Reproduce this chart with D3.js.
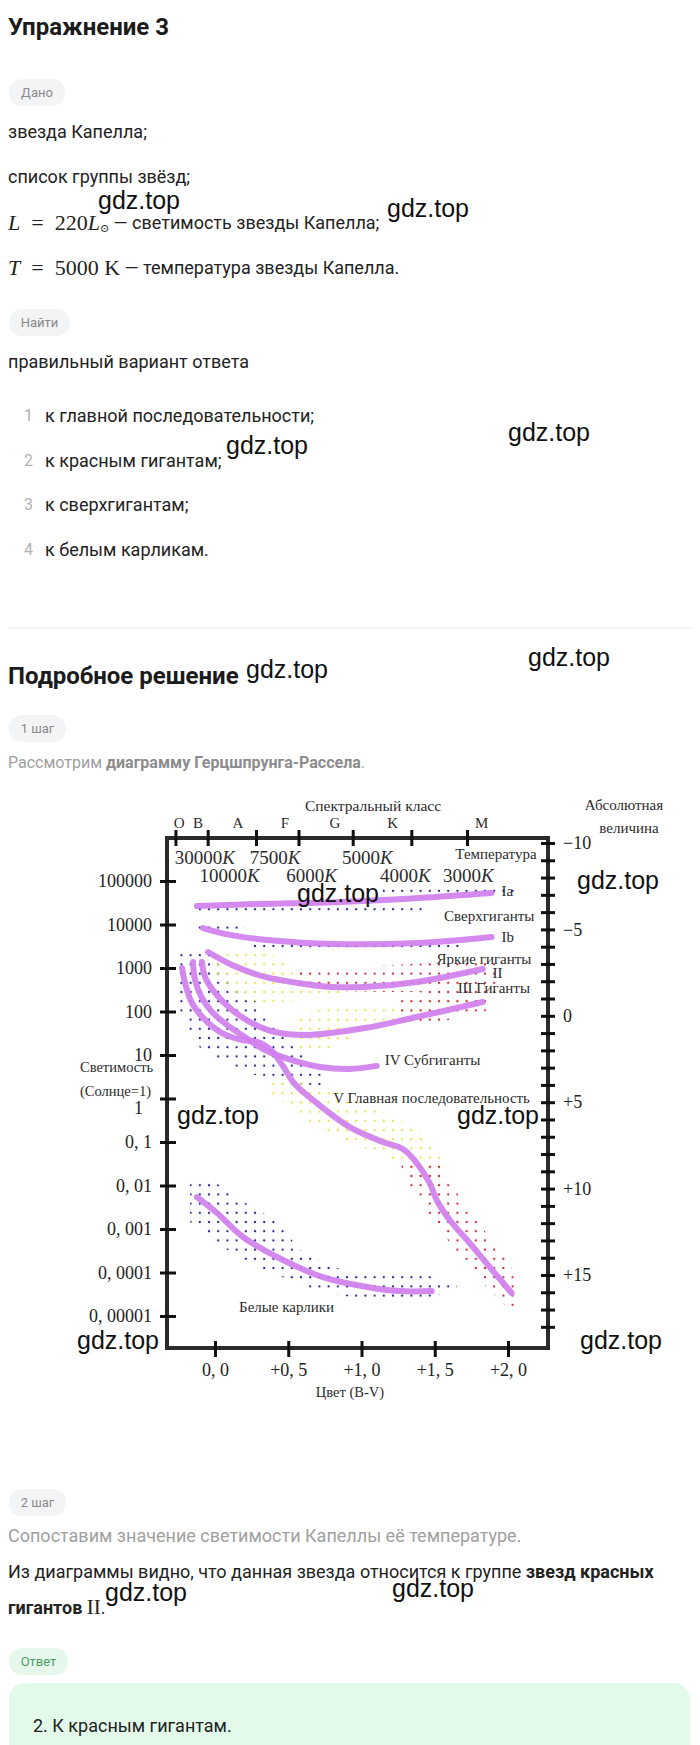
<!DOCTYPE html>
<html>
<head>
<meta charset="utf-8">
<script src="https://cdn.jsdelivr.net/npm/d3@7"></script>
<style>
  body { margin: 0; background: #fff; }
  svg { display: block; }
</style>
</head>
<body>
<svg id="page"></svg>
<script>
// ---- chart data (B-V colour, absolute magnitude) ----
const lumTicks = [1e5, 1e4, 1e3, 100, 10, 1, 0.1, 0.01, 0.001, 0.0001, 0.00001];
const lumLabels = ["100000", "10000", "1000", "100", "10", "1", "0, 1", "0, 01", "0, 001", "0, 0001", "0, 00001"];
const magTicks = [-10, -9, -8, -7, -6, -5, -4, -3, -2, -1, 0, 1, 2, 3, 4, 5, 6, 7, 8, 9, 10, 11, 12, 13, 14, 15, 16, 17, 18];
const magLabels = { "-10": "\u221210", "-5": "\u22125", "0": "0", "5": "+5", "10": "+10", "15": "+15" };
const colorTicks = [0, 0.5, 1, 1.5, 2];
const colorLabels = ["0, 0", "+0, 5", "+1, 0", "+1, 5", "+2, 0"];
const classTicks = [-0.27, -0.05, 0.28, 0.57, 0.94, 1.34, 1.72];
const classNames = ["O", "B", "A", "F", "G", "K", "M"];
const classPos = [-0.245, -0.116, 0.157, 0.477, 0.818, 1.213, 1.82];
const tempNames = ["30000", "10000", "7500", "6000", "5000", "4000", "3000"];
const tempPos = [-0.07, 0.10, 0.41, 0.66, 1.04, 1.30, 1.73];
const tempRow = [0, 1, 0, 1, 0, 1, 1];

const curveIa = [[-0.123, -6.35], [0.307, -6.47], [0.852, -6.59], [1.397, -6.82], [1.888, -7.11]];
const curveIb = [[-0.082, -5.08], [0.102, -4.68], [0.354, -4.39], [0.804, -4.16], [1.377, -4.21], [1.888, -4.56]];
const curveII = [[-0.048, -3.69], [0.116, -2.94], [0.341, -2.25], [0.566, -1.90], [0.798, -1.67], [1.022, -1.67], [1.377, -1.96], [1.827, -2.71]];
const curveIII = [[-0.089, -3.11], [-0.068, -2.25], [0, -1.32], [0.116, -0.34], [0.252, 0.42], [0.409, 0.94], [0.634, 1.11], [1.022, 0.71], [1.377, 0.07], [1.827, -0.80]];
const curveIV = [[-0.150, -3.11], [-0.136, -2.07], [-0.089, -1.03], [-0.020, -0.22], [0.082, 0.53], [0.204, 1.23], [0.341, 1.98], [0.566, 2.67], [0.716, 2.96], [0.920, 3.08], [1.104, 2.90]];
const curveV = [[-0.225, -2.77], [-0.204, -1.90], [-0.157, -0.74], [-0.068, 0.24], [0.048, 1.00], [0.184, 1.40], [0.293, 1.52], [0.382, 1.98], [0.464, 2.91], [0.545, 3.95], [0.695, 5.05], [0.920, 6.44], [1.145, 7.30], [1.282, 7.71], [1.377, 8.52], [1.466, 9.68], [1.513, 10.66], [1.602, 11.82], [1.738, 13.15], [1.875, 14.54], [2.025, 16.04]];
const curveWD = [[-0.123, 10.49], [0.014, 11.41], [0.191, 12.80], [0.464, 14.13], [0.736, 15.12], [1.036, 15.69], [1.261, 15.93], [1.479, 15.93]];

// dotted star fields (polygons in B-V / magnitude)
const blueFields = [
  [[1.125, -7.51], [2.045, -7.51], [2.045, -6.99], [1.125, -6.99]],
  [[-0.136, -6.41], [1.431, -6.41], [1.431, -5.89], [-0.136, -5.89]],
  [[-0.136, -5.37], [0.204, -5.37], [0.204, -4.85], [-0.136, -4.85]],
  [[0.239, -4.33], [1.670, -4.33], [1.670, -3.81], [0.239, -3.81]],
  [[-0.266, -3.92], [-0.068, -3.92], [0.020, -3.11], [0.136, -1.78], [0.273, -0.91], [0.389, 0.53], [0.579, 1.98], [0.750, 3.43], [0.750, 4.00], [0.511, 4.00], [0.273, 3.43], [0.068, 2.67], [-0.102, 1.86], [-0.204, 0.53], [-0.266, -0.91]],
  [[-0.170, 9.62], [0, 9.62], [0.136, 10.49], [0.320, 11.35], [0.443, 12.11], [0.579, 13.55], [0.818, 14.60], [1.466, 15.06], [1.650, 15.58], [1.650, 15.87], [1.466, 16.27], [0.920, 16.27], [0.648, 15.76], [0.341, 14.71], [0.102, 13.67], [-0.068, 12.51], [-0.170, 11.93]]
];
const yellowFields = [
  [[-0.034, -3.92], [0.307, -3.92], [0.511, -2.94], [0.852, -1.78], [0.886, -1.03], [0.579, -0.91], [0.307, -0.74], [0.136, -1.20], [0, -2.19]],
  [[0.579, -0.22], [0.988, -0.63], [1.397, -0.91], [1.738, -1.20], [1.738, -0.45], [1.397, 0.36], [1.057, 0.82], [0.784, 1.86], [0.579, 2.09], [0.545, 0.82]],
  [[0.375, 3.60], [0.784, 4.18], [1.125, 5.45], [1.397, 6.61], [1.534, 7.77], [1.568, 9.38], [1.431, 9.50], [1.261, 8.46], [1.057, 7.77], [0.784, 6.90], [0.579, 5.74], [0.443, 4.87], [0.341, 4.29]]
];
const redFields = [
  [[0.579, -2.88], [1.057, -2.88], [1.466, -3.06], [1.909, -3.11], [1.943, -1.20], [1.534, -1.03], [1.397, -1.38], [1.125, -1.38], [0.579, -1.49]],
  [[1.261, -1.03], [1.875, -1.20], [1.875, -0.34], [1.534, 0.36], [1.261, 0.53]],
  [[1.261, 8.35], [1.534, 8.63], [1.684, 10.66], [1.806, 12.11], [2.011, 14.13], [2.093, 17.03], [1.977, 16.74], [1.840, 15.58], [1.670, 13.84], [1.534, 12.40], [1.397, 10.66], [1.295, 9.50]]
];

const zoneLabels = [
  { t: "Температура", bv: 2.195, m: -9.36, a: "end" },
  { t: "Ia", bv: 1.956, m: -7.22, a: "start" },
  { t: "Сверхгиганты", bv: 2.18, m: -5.78, a: "end" },
  { t: "Ib", bv: 1.956, m: -4.56, a: "start" },
  { t: "Яркие гиганты", bv: 2.16, m: -3.29, a: "end" },
  { t: "II", bv: 1.895, m: -2.48, a: "start" },
  { t: "III Гиганты", bv: 2.15, m: -1.61, a: "end" },
  { t: "IV Субгиганты", bv: 1.159, m: 2.56, a: "start" },
  { t: "V Главная последовательность", bv: 2.15, m: 4.76, a: "end" },
  { t: "Белые карлики", bv: 0.164, m: 16.85, a: "start" }
];

const marks = [
  [98, 200], [387, 208], [508, 432], [226, 445], [528, 657], [246, 669],
  [297, 893], [577, 880], [177, 1115], [457, 1115], [77, 1340], [580, 1340],
  [105, 1592], [392, 1588]
];

// ---- page ----
const sans = "Roboto, 'Liberation Sans', sans-serif";
const serif = "'Liberation Serif', 'DejaVu Serif', serif";
const ink = "#2b2b2b";

const svg = d3.select("#page").attr("width", 700).attr("height", 1745);

function textLine(x, y, parts, size, color) {
  const t = svg.append("text")
    .attr("x", x).attr("y", y)
    .attr("dominant-baseline", "central")
    .style("font-family", sans)
    .style("font-size", size + "px")
    .attr("fill", color);
  parts.forEach(p => {
    const s = t.append("tspan").text(p.t);
    if (p.b) s.style("font-weight", 700);
    if (p.f) s.style("font-family", p.f);
    if (p.i) s.style("font-style", "italic");
    if (p.c) s.attr("fill", p.c);
    if (p.s) s.style("font-size", p.s + "px");
    if (p.dy) s.attr("dy", p.dy);
  });
  return t;
}

function pill(x, y, w, label, bg, fg) {
  svg.append("rect").attr("x", x).attr("y", y).attr("width", w).attr("height", 27)
    .attr("rx", 13).attr("fill", bg);
  svg.append("text").attr("x", x + w / 2).attr("y", y + 13.5)
    .attr("text-anchor", "middle").attr("dominant-baseline", "central")
    .style("font-family", sans).style("font-size", "13px").attr("fill", fg).text(label);
}

textLine(8, 27, [{ t: "Упражнение 3", b: true }], 24, "#1b1b1b");

pill(9, 79, 56, "Дано", "#f3f4f6", "#8a8a8a");
textLine(8, 131, [{ t: "звезда Капелла;" }], 18, "#222");
textLine(8, 176, [{ t: "список группы звёзд;" }], 18, "#222");
textLine(8, 222, [
  { t: "L", f: serif, i: true, s: 22 },
  { t: "\u2002=\u2002220", f: serif, s: 22 },
  { t: "L", f: serif, i: true, s: 22 },
  { t: "\u2299", f: serif, s: 11, dy: 6 },
  { t: " \u2014 светимость звезды Капелла;", dy: -6 }
], 18, "#222");
textLine(8, 267, [
  { t: "T", f: serif, i: true, s: 22 },
  { t: "\u2002=\u20025000 K", f: serif, s: 22 },
  { t: " \u2014 температура звезды Капелла." }
], 18, "#222");

pill(9, 309, 61, "Найти", "#f3f4f6", "#8a8a8a");
textLine(8, 361, [{ t: "правильный вариант ответа" }], 18, "#222");

const options = ["к главной последовательности;", "к красным гигантам;", "к сверхгигантам;", "к белым карликам."];
options.forEach((o, i) => {
  textLine(24, 415 + i * 44.7, [{ t: String(i + 1), c: "#b0b0b0" }], 16, "#b0b0b0");
  textLine(45, 415 + i * 44.7, [{ t: o }], 18, "#222");
});

svg.append("line").attr("x1", 9).attr("x2", 691).attr("y1", 628).attr("y2", 628)
  .attr("stroke", "#f2f2f2").attr("stroke-width", 2);

textLine(8, 676, [{ t: "Подробное решение", b: true }], 24, "#1b1b1b");
pill(9, 715, 57, "1 шаг", "#f3f4f6", "#8a8a8a");
textLine(8, 762, [
  { t: "Рассмотрим " },
  { t: "диаграмму Герцшпрунга-Рассела", b: true, c: "#8c8c8c" },
  { t: "." }
], 16, "#a0a0a0");

// ---- Hertzsprung-Russell chart ----
const x = d3.scaleLinear().domain([0, 2]).range([215, 508]);
const yMag = d3.scaleLinear().domain([-10, 15]).range([843, 1275]);
const yLum = d3.scaleLog().domain([1e5, 1e-5]).range([881, 1316]);
const frame = { left: 167, right: 548, top: 838, bottom: 1348 };

const defs = svg.append("defs");
[["blue", "#26268f"], ["yellow", "#efe04a"], ["red", "#cc2a3e"]].forEach(([k, c]) => {
  const p = defs.append("pattern").attr("id", "dots-" + k)
    .attr("patternUnits", "userSpaceOnUse")
    .attr("width", 9.2).attr("height", 9.2).attr("x", 2).attr("y", 3);
  p.append("circle").attr("cx", 4.6).attr("cy", 4.6).attr("r", 1.15).attr("fill", c);
});

const chart = svg.append("g");
const toPath = poly => d3.line()(poly.map(p => [x(p[0]), yMag(p[1])])) + "Z";

[["blue", blueFields], ["yellow", yellowFields], ["red", redFields]].forEach(([k, fields]) => {
  chart.append("g").selectAll("path").data(fields).join("path")
    .attr("d", toPath)
    .attr("fill", `url(#dots-${k})`);
});

const curve = d3.line()
  .x(d => x(d[0]))
  .y(d => yMag(d[1]))
  .curve(d3.curveCatmullRom.alpha(0.5));

chart.append("g").selectAll("path")
  .data([curveIa, curveIb, curveII, curveIII, curveIV, curveV, curveWD])
  .join("path")
  .attr("d", curve)
  .attr("fill", "none")
  .attr("stroke", "#d07fee")
  .attr("stroke-width", 6)
  .attr("stroke-linecap", "round")
  .attr("opacity", 0.92);

// frame
chart.append("path")
  .attr("d", `M${frame.left},${frame.top}H${frame.right}V${frame.bottom}H${frame.left}Z`)
  .attr("fill", "none").attr("stroke", ink).attr("stroke-width", 4);

function styleAxis(g, size) {
  g.select(".domain").remove();
  g.selectAll(".tick line").attr("stroke", "#111").attr("stroke-width", 3);
  g.selectAll(".tick text").style("font-family", serif).style("font-size", size + "px").attr("fill", "#222");
}

const gLeft = chart.append("g").attr("transform", `translate(${frame.left},0)`)
  .call(d3.axisLeft(yLum).tickValues(lumTicks).tickFormat((d, i) => lumLabels[i]).tickSize(7).tickPadding(8));
styleAxis(gLeft, 18);
gLeft.selectAll(".tick line").attr("x1", 9);
// the "1" label sits a little below its tick, under "(Солнце=1)"
gLeft.selectAll(".tick text").filter(d => d === 1).attr("dy", "0.85em").attr("x", -24);

const gRight = chart.append("g").attr("transform", `translate(${frame.right},0)`)
  .call(d3.axisRight(yMag).tickValues(magTicks).tickFormat(d => magLabels[d] || "").tickSize(7).tickPadding(8));
styleAxis(gRight, 18);
gRight.selectAll(".tick line").attr("x1", -7);

const gTop = chart.append("g").attr("transform", `translate(0,${frame.top})`)
  .call(d3.axisTop(x).tickValues(classTicks).tickFormat("").tickSize(8));
styleAxis(gTop, 14);
gTop.selectAll(".tick line").attr("y1", 8);

const gBottom = chart.append("g").attr("transform", `translate(0,${frame.bottom})`)
  .call(d3.axisBottom(x).tickValues(colorTicks).tickFormat((d, i) => colorLabels[i]).tickSize(9).tickPadding(6));
styleAxis(gBottom, 18);
gBottom.selectAll(".tick line").attr("y1", -7);

function chartText(px, py, str, size, anchor) {
  return chart.append("text").attr("x", px).attr("y", py)
    .attr("text-anchor", anchor || "middle").attr("dominant-baseline", "central")
    .style("font-family", serif).style("font-size", size + "px").attr("fill", ink).text(str);
}

classNames.forEach((c, i) => chartText(x(classPos[i]), 823, c, 15));
tempNames.forEach((t, i) => {
  const el = chartText(x(tempPos[i]), tempRow[i] ? 875 : 857, t, 19);
  el.append("tspan").style("font-style", "italic").text("K");
});

chartText(373, 805, "Спектральный класс", 15.5);
chartText(624, 805, "Абсолютная", 15);
chartText(629, 828, "величина", 15);
chartText(80, 1067, "Светимость", 14.5, "start");
chartText(80, 1091, "(Солнце=1)", 14.5, "start");
chartText(350, 1392, "Цвет (B-V)", 14.5);

zoneLabels.forEach(l => chartText(x(l.bv), yMag(l.m), l.t, 15, l.a));

// ---- step 2 and answer ----
pill(9, 1489, 57, "2 шаг", "#f3f4f6", "#8a8a8a");
textLine(8, 1535, [{ t: "Сопоставим значение светимости Капеллы её температуре." }], 18, "#a0a0a0");
textLine(8, 1571, [
  { t: "Из диаграммы видно, что данная звезда относится к группе " },
  { t: "звезд красных", b: true }
], 18, "#222");
textLine(8, 1607, [
  { t: "гигантов ", b: true },
  { t: "II", f: serif, s: 21 },
  { t: "." }
], 18, "#222");

pill(9, 1648, 59, "Ответ", "#e6f8ec", "#4c9d63");
svg.append("rect").attr("x", 9).attr("y", 1683).attr("width", 681).attr("height", 90)
  .attr("rx", 16).attr("fill", "#e3faea");
textLine(33, 1725, [{ t: "2. К красным гигантам." }], 18, "#222");

// ---- watermarks ----
svg.append("g").selectAll("text").data(marks).join("text")
  .attr("x", d => d[0]).attr("y", d => d[1])
  .attr("dominant-baseline", "central")
  .style("font-family", "'Liberation Sans', Arial, sans-serif")
  .style("font-size", "25px")
  .attr("fill", "#111")
  .text("gdz.top");
</script>
</body>
</html>
